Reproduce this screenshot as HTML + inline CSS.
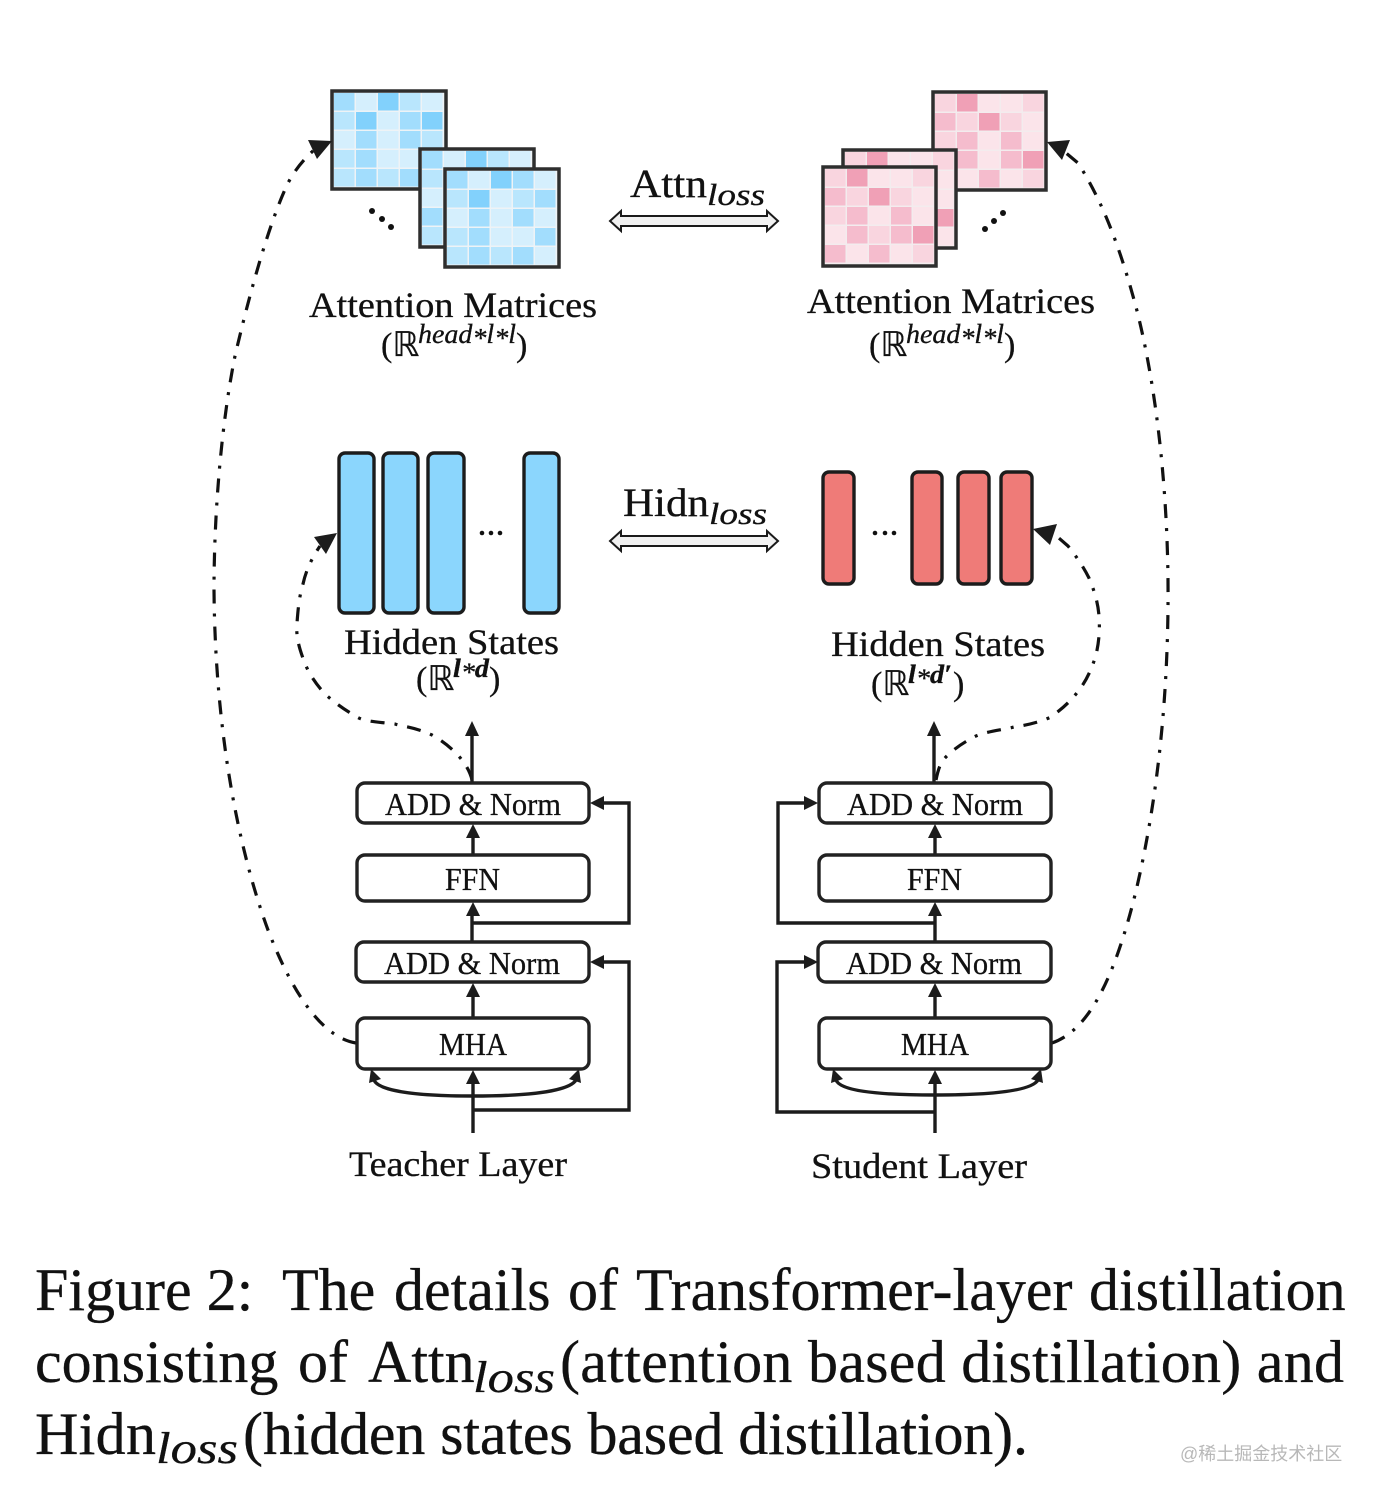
<!DOCTYPE html>
<html><head><meta charset="utf-8"><style>
html,body{margin:0;padding:0;background:#fff}
svg{display:block}
text{font-family:"Liberation Serif",serif;fill:#111;stroke:#111;stroke-width:.3px}
.m{stroke:#2e2e2e;stroke-width:3.5}
.mb{fill:#eef3f6}
.mp{fill:#f3ecee}
.bx{fill:#fff;stroke:#222;stroke-width:3.4}
.l{fill:none;stroke:#1c1c1c;stroke-width:3.4}
.d{fill:none;stroke:#111;stroke-width:3.2;stroke-dasharray:14 10 3 10}
.a{fill:#1c1c1c}
.i{font-style:italic}
rect.k{width:20.5px;height:17.5px}
.A{fill:#d5effd}.B{fill:#b9e6fd}.C{fill:#a2ddfd}.D{fill:#82d1fc}
.P{fill:#fbe4ea}.Q{fill:#f9d5df}.R{fill:#f5bccd}.S{fill:#f0a0b6}
</style></head><body>
<svg width="1378" height="1500" viewBox="0 0 1378 1500" xmlns="http://www.w3.org/2000/svg">
<rect width="1378" height="1500" fill="#fff"/>

<!-- Blue M1 -->
<rect class="m mb" x="332" y="91" width="114" height="98"/>
<g transform="translate(334,93)">
<rect class="k C" x="0" y="0"/><rect class="k A" x="22" y="0"/><rect class="k D" x="44" y="0"/><rect class="k B" x="66" y="0"/><rect class="k A" x="88" y="0"/>
<rect class="k B" x="0" y="19"/><rect class="k D" x="22" y="19"/><rect class="k A" x="44" y="19"/><rect class="k C" x="66" y="19"/><rect class="k D" x="88" y="19"/>
<rect class="k A" x="0" y="38"/><rect class="k C" x="22" y="38"/><rect class="k A" x="44" y="38"/><rect class="k C" x="66" y="38"/><rect class="k B" x="88" y="38"/>
<rect class="k B" x="0" y="57"/><rect class="k C" x="22" y="57"/><rect class="k A" x="44" y="57"/><rect class="k A" x="66" y="57"/><rect class="k A" x="88" y="57"/>
<rect class="k B" x="0" y="76"/><rect class="k C" x="22" y="76"/><rect class="k B" x="44" y="76"/><rect class="k C" x="66" y="76"/><rect class="k A" x="88" y="76"/>
</g>
<!-- Blue M2 -->
<rect class="m mb" x="420" y="149" width="114" height="98"/>
<g transform="translate(422,151)">
<rect class="k C" x="0" y="0"/><rect class="k A" x="22" y="0"/><rect class="k D" x="44" y="0"/><rect class="k B" x="66" y="0"/><rect class="k A" x="88" y="0"/>
<rect class="k B" x="0" y="19"/><rect class="k A" x="0" y="38"/><rect class="k C" x="0" y="57"/><rect class="k B" x="0" y="76"/>
</g>
<!-- Blue M3 -->
<rect class="m mb" x="445" y="169" width="114" height="98"/>
<g transform="translate(447,171)">
<rect class="k C" x="0" y="0"/><rect class="k A" x="22" y="0"/><rect class="k D" x="44" y="0"/><rect class="k C" x="66" y="0"/><rect class="k A" x="88" y="0"/>
<rect class="k B" x="0" y="19"/><rect class="k D" x="22" y="19"/><rect class="k A" x="44" y="19"/><rect class="k B" x="66" y="19"/><rect class="k C" x="88" y="19"/>
<rect class="k A" x="0" y="38"/><rect class="k C" x="22" y="38"/><rect class="k A" x="44" y="38"/><rect class="k C" x="66" y="38"/><rect class="k A" x="88" y="38"/>
<rect class="k B" x="0" y="57"/><rect class="k C" x="22" y="57"/><rect class="k A" x="44" y="57"/><rect class="k A" x="66" y="57"/><rect class="k C" x="88" y="57"/>
<rect class="k B" x="0" y="76"/><rect class="k C" x="22" y="76"/><rect class="k B" x="44" y="76"/><rect class="k C" x="66" y="76"/><rect class="k A" x="88" y="76"/>
</g>
<circle cx="372" cy="211" r="3" fill="#111"/><circle cx="382" cy="219" r="3" fill="#111"/><circle cx="391" cy="227" r="3" fill="#111"/>

<!-- Pink P1 -->
<rect class="m mp" x="933" y="92" width="113" height="98"/>
<g transform="translate(935,94)">
<rect class="k Q" x="0" y="0"/><rect class="k S" x="22" y="0"/><rect class="k P" x="44" y="0"/><rect class="k P" x="66" y="0"/><rect class="k Q" x="88" y="0"/>
<rect class="k R" x="0" y="19"/><rect class="k Q" x="22" y="19"/><rect class="k S" x="44" y="19"/><rect class="k Q" x="66" y="19"/><rect class="k P" x="88" y="19"/>
<rect class="k Q" x="0" y="38"/><rect class="k R" x="22" y="38"/><rect class="k P" x="44" y="38"/><rect class="k R" x="66" y="38"/><rect class="k P" x="88" y="38"/>
<rect class="k Q" x="0" y="57"/><rect class="k R" x="22" y="57"/><rect class="k P" x="44" y="57"/><rect class="k R" x="66" y="57"/><rect class="k S" x="88" y="57"/>
<rect class="k P" x="0" y="76"/><rect class="k P" x="22" y="76"/><rect class="k R" x="44" y="76"/><rect class="k P" x="66" y="76"/><rect class="k Q" x="88" y="76"/>
</g>
<!-- Pink P2 -->
<rect class="m mp" x="843" y="150" width="113" height="98"/>
<g transform="translate(845,152)">
<rect class="k Q" x="0" y="0"/><rect class="k S" x="22" y="0"/><rect class="k P" x="44" y="0"/><rect class="k P" x="66" y="0"/><rect class="k Q" x="88" y="0"/>
<rect class="k P" x="88" y="19"/><rect class="k P" x="88" y="38"/><rect class="k S" x="88" y="57"/><rect class="k P" x="88" y="76"/>
</g>
<!-- Pink P3 -->
<rect class="m mp" x="823" y="167" width="113" height="99"/>
<g transform="translate(825,169)">
<rect class="k Q" x="0" y="0"/><rect class="k S" x="22" y="0"/><rect class="k P" x="44" y="0"/><rect class="k P" x="66" y="0"/><rect class="k Q" x="88" y="0"/>
<rect class="k R" x="0" y="19"/><rect class="k Q" x="22" y="19"/><rect class="k S" x="44" y="19"/><rect class="k Q" x="66" y="19"/><rect class="k P" x="88" y="19"/>
<rect class="k Q" x="0" y="38"/><rect class="k R" x="22" y="38"/><rect class="k P" x="44" y="38"/><rect class="k R" x="66" y="38"/><rect class="k P" x="88" y="38"/>
<rect class="k P" x="0" y="57"/><rect class="k R" x="22" y="57"/><rect class="k Q" x="44" y="57"/><rect class="k R" x="66" y="57"/><rect class="k S" x="88" y="57"/>
<rect class="k R" x="0" y="76"/><rect class="k P" x="22" y="76"/><rect class="k R" x="44" y="76"/><rect class="k P" x="66" y="76"/><rect class="k Q" x="88" y="76"/>
</g>
<circle cx="985" cy="229" r="3" fill="#111"/><circle cx="994" cy="221" r="3" fill="#111"/><circle cx="1003" cy="213" r="3" fill="#111"/>

<!-- Double arrows -->
<path d="M610 221 L621 211 V216 H767 V211 L778 221 L767 231 V226 H621 V231 Z" fill="#f1f1f1" stroke="#1a1a1a" stroke-width="2"/>
<path d="M610 541 L621 531 V536 H767 V531 L778 541 L767 551 V546 H621 V551 Z" fill="#f1f1f1" stroke="#1a1a1a" stroke-width="2"/>

<text x="630" y="197" font-size="40" textLength="77" lengthAdjust="spacingAndGlyphs">Attn</text>
<text class="i" x="707" y="205" font-size="31" textLength="58" lengthAdjust="spacingAndGlyphs">loss</text>
<text x="623" y="516" font-size="40" textLength="86" lengthAdjust="spacingAndGlyphs">Hidn</text>
<text class="i" x="709" y="524" font-size="31" textLength="58" lengthAdjust="spacingAndGlyphs">loss</text>

<text x="309" y="317" font-size="36" textLength="288" lengthAdjust="spacingAndGlyphs">Attention Matrices</text>
<text x="807" y="313" font-size="36" textLength="288" lengthAdjust="spacingAndGlyphs">Attention Matrices</text>
<text x="381" y="356" font-size="34">(ℝ</text>
<text class="i" x="418" y="343" font-size="27" textLength="98" lengthAdjust="spacingAndGlyphs">head<tspan dy="4">*</tspan><tspan dy="-4">l</tspan><tspan dy="4">*</tspan><tspan dy="-4">l</tspan></text>
<text x="516" y="356" font-size="34">)</text>
<text x="869" y="356" font-size="34">(ℝ</text>
<text class="i" x="906" y="343" font-size="27" textLength="98" lengthAdjust="spacingAndGlyphs">head<tspan dy="4">*</tspan><tspan dy="-4">l</tspan><tspan dy="4">*</tspan><tspan dy="-4">l</tspan></text>
<text x="1004" y="356" font-size="34">)</text>

<!-- Hidden bars -->
<g fill="#8bd6fd" stroke="#1c1c1c" stroke-width="3.4">
<rect x="339" y="453" width="35" height="160" rx="6"/>
<rect x="383" y="453" width="35" height="160" rx="6"/>
<rect x="428" y="453" width="36" height="160" rx="6"/>
<rect x="524" y="453" width="35" height="160" rx="6"/>
</g>
<g fill="#ef7b78" stroke="#1c1c1c" stroke-width="3.4">
<rect x="823" y="472" width="31" height="112" rx="6"/>
<rect x="912" y="472" width="30" height="112" rx="6"/>
<rect x="958" y="472" width="31" height="112" rx="6"/>
<rect x="1001" y="472" width="31" height="112" rx="6"/>
</g>
<g fill="#111"><circle cx="482" cy="533" r="2.3"/><circle cx="491" cy="533" r="2.3"/><circle cx="500" cy="533" r="2.3"/>
<circle cx="875" cy="533" r="2.3"/><circle cx="885" cy="533" r="2.3"/><circle cx="894" cy="533" r="2.3"/></g>

<text x="344" y="654" font-size="36" textLength="215" lengthAdjust="spacingAndGlyphs">Hidden States</text>
<text x="831" y="656" font-size="36" textLength="214" lengthAdjust="spacingAndGlyphs">Hidden States</text>
<text x="416" y="690" font-size="34">(ℝ</text>
<text class="i" x="453" y="677" font-size="26" textLength="36" font-weight="bold" lengthAdjust="spacingAndGlyphs">l<tspan dy="4" font-weight="normal">*</tspan><tspan dy="-4">d</tspan></text>
<text x="489" y="690" font-size="34">)</text>
<text x="871" y="695" font-size="34">(ℝ</text>
<text class="i" x="908" y="683" font-size="26" textLength="44" font-weight="bold" lengthAdjust="spacingAndGlyphs">l<tspan dy="4" font-weight="normal">*</tspan><tspan dy="-4">d′</tspan></text>
<text x="953" y="695" font-size="34">)</text>

<!-- Dash-dot curves -->
<path class="d" d="M356 1043 C325 1038 295 1000 268 930 C235 840 215 720 214 590 C214 510 222 420 235 356 C248 300 268 225 288 183 C295 170 303 160 314 150"/>
<path class="d" d="M1052 1043 C1090 1030 1115 975 1135 895 C1158 800 1169 690 1168 580 C1167 480 1155 380 1136 307 C1122 255 1105 205 1078 163 L1060 148"/>
<path class="d" d="M472 780 C468 762 450 745 432 735 C415 727 400 726 395 724 C380 722 365 722 357 717 C345 710 335 703 325 694 C315 683 308 672 304 661 C298 645 296 635 297 623 C298 610 299 597 303 584 C306 570 312 558 320 546"/>
<path class="d" d="M936 780 C938 770 940 764 944 759 C952 750 964 742 976 736 C988 731 1002 730 1014 727 C1028 725 1040 722 1051 717 C1062 709 1072 700 1079 690 C1087 680 1092 668 1096 655 C1099 642 1100 630 1099 616 C1098 602 1094 590 1089 578 C1083 566 1076 556 1068 546 L1053 533"/>
<path class="a" d="M332 141 L308 140 L317 159 Z"/>
<path class="a" d="M1047 142 L1070 140 L1062 160 Z"/>
<path class="a" d="M337 533 L314 537 L326 554 Z"/>
<path class="a" d="M1033 529 L1057 524 L1050 545 Z"/>

<!-- Left stack connectors -->
<g class="l">
<path d="M472 782 V735"/><path d="M473 854 V835"/><path d="M472 941 V910"/><path d="M473 1017 V993"/>
<path d="M473 1133 V1080"/>
<path d="M472 923 H629 V803 H602"/>
<path d="M473 1110 H629 V962 H602"/>
<path d="M374 1080 C378 1090 410 1096 473 1096 C536 1096 570 1090 576 1080"/>
</g>
<g class="a">
<path d="M472 721 L465 736 H479 Z"/><path d="M473 824 L466 838 H480 Z"/><path d="M473 902 L466 916 H480 Z"/><path d="M473 983 L466 997 H480 Z"/><path d="M473 1070 L466 1084 H480 Z"/>
<path d="M590 803 L604 796 V810 Z"/><path d="M590 962 L604 955 V969 Z"/>
<path d="M371 1069 L369 1083 L381 1079 Z"/><path d="M579 1069 L569 1079 L581 1083 Z"/>
</g>
<!-- Right stack connectors -->
<g class="l">
<path d="M934 782 V735"/><path d="M935 854 V835"/><path d="M935 941 V910"/><path d="M935 1017 V993"/>
<path d="M935 1133 V1080"/>
<path d="M935 923 H778 V803 H806"/>
<path d="M935 1112 H777 V962 H806"/>
<path d="M836 1080 C840 1090 872 1095 935 1095 C998 1095 1032 1090 1038 1080"/>
</g>
<g class="a">
<path d="M934 721 L927 736 H941 Z"/><path d="M935 824 L928 838 H942 Z"/><path d="M935 902 L928 916 H942 Z"/><path d="M935 983 L928 997 H942 Z"/><path d="M935 1070 L928 1084 H942 Z"/>
<path d="M818 803 L804 796 V810 Z"/><path d="M818 962 L804 955 V969 Z"/>
<path d="M833 1069 L831 1083 L843 1079 Z"/><path d="M1041 1069 L1031 1079 L1043 1083 Z"/>
</g>

<!-- Boxes -->
<g class="bx">
<rect x="357" y="783" width="232" height="40" rx="8"/>
<rect x="357" y="855" width="232" height="46" rx="8"/>
<rect x="356" y="942" width="233" height="40" rx="8"/>
<rect x="357" y="1018" width="232" height="51" rx="8"/>
<rect x="819" y="783" width="232" height="40" rx="8"/>
<rect x="819" y="855" width="232" height="46" rx="8"/>
<rect x="818" y="942" width="233" height="40" rx="8"/>
<rect x="819" y="1018" width="232" height="51" rx="8"/>
</g>
<g font-size="32">
<text x="385" y="815" textLength="176" lengthAdjust="spacingAndGlyphs">ADD &amp; Norm</text>
<text x="445" y="890" textLength="55" lengthAdjust="spacingAndGlyphs">FFN</text>
<text x="384" y="974" textLength="176" lengthAdjust="spacingAndGlyphs">ADD &amp; Norm</text>
<text x="439" y="1055" textLength="68" lengthAdjust="spacingAndGlyphs">MHA</text>
<text x="847" y="815" textLength="176" lengthAdjust="spacingAndGlyphs">ADD &amp; Norm</text>
<text x="907" y="890" textLength="55" lengthAdjust="spacingAndGlyphs">FFN</text>
<text x="846" y="974" textLength="176" lengthAdjust="spacingAndGlyphs">ADD &amp; Norm</text>
<text x="901" y="1055" textLength="68" lengthAdjust="spacingAndGlyphs">MHA</text>
</g>

<text x="349" y="1176" font-size="36" textLength="218" lengthAdjust="spacingAndGlyphs">Teacher Layer</text>
<text x="811" y="1178" font-size="36" textLength="216" lengthAdjust="spacingAndGlyphs">Student Layer</text>

<!-- Caption -->
<g font-size="60">
<text y="1310"><tspan x="35">Figure 2:</tspan><tspan x="282">The</tspan><tspan x="394">details</tspan><tspan x="568">of</tspan><tspan x="636">Transformer-layer</tspan><tspan x="1089">distillation</tspan></text>
<text y="1382"><tspan x="35">consisting</tspan><tspan x="298">of</tspan><tspan x="368">Attn</tspan></text>
<text class="i" x="473" y="1392" font-size="44" textLength="82" lengthAdjust="spacingAndGlyphs">loss</text>
<text x="560" y="1382" textLength="784">(attention based distillation) and</text>
<text x="35" y="1454" textLength="121">Hidn</text>
<text class="i" x="156" y="1463" font-size="44" textLength="82" lengthAdjust="spacingAndGlyphs">loss</text>
<text x="243" y="1454" textLength="785">(hidden states based distillation).</text>
</g>
<text x="1180" y="1460" font-size="18" style="font-family:'Liberation Sans','Noto Sans CJK SC',sans-serif;fill:#b8b8b8;stroke:none">@稀土掘金技术社区</text>
</svg>
</body></html>
